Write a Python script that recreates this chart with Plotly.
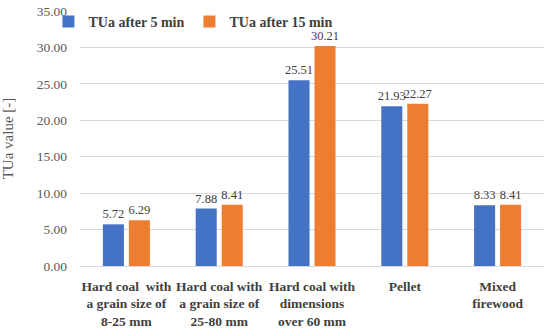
import plotly.graph_objects as go

categories = [
    "Hard coal  with<br>a grain size of<br>8-25 mm",
    "Hard coal with<br>a grain size of<br>25-80 mm",
    "Hard coal with<br>dimensions<br>over 60 mm",
    "Pellet",
    "Mixed<br>firewood",
]
tua_5 = [5.72, 7.88, 25.51, 21.93, 8.33]
tua_15 = [6.29, 8.41, 30.21, 22.27, 8.41]
series_names = ["TUa after 5 min", "TUa after 15 min"]
colors = ["#4472C4", "#ED7D31"]

FONT = "Liberation Serif, DejaVu Serif, serif"

fig = go.Figure()
for name, vals, col in zip(series_names, [tua_5, tua_15], colors):
    fig.add_trace(go.Bar(
        x=categories, y=vals, name=name,
        marker=dict(color=col, line=dict(width=0)),
        text=[f"{v:.2f}" for v in vals],
        textposition="outside",
        constraintext="none",
        textfont=dict(family=FONT, size=12.5, color="#404040"),
        cliponaxis=False,
    ))

fig.update_layout(
    width=550, height=329,
    margin=dict(l=80, r=6, t=11, b=63, autoexpand=False),
    paper_bgcolor="white", plot_bgcolor="white",
    barmode="group", bargap=0.44, bargroupgap=0.19,
    font=dict(family=FONT, color="#595959"),
    showlegend=True,
    legend=dict(
        orientation="h", x=-0.068, xanchor="left", y=1.02, yanchor="top",
        font=dict(family=FONT, size=14, color="#404040", weight="bold"),
        bgcolor="rgba(0,0,0,0)", itemwidth=30, traceorder="normal",
    ),
    xaxis=dict(
        showgrid=False, showline=False, ticks="", automargin=False,
        tickangle=0, ticklabeloverflow="allow",
        tickfont=dict(family=FONT, size=13.5, color="#404040", weight="bold"),
        ticklabelstandoff=10,
    ),
    yaxis=dict(
        range=[0, 35], dtick=5, tickformat=".2f", automargin=False,
        ticklabeloverflow="allow",
        showgrid=True, gridcolor="#D9D9D9", gridwidth=1,
        zeroline=True, zerolinecolor="#D9D9D9", zerolinewidth=1,
        showline=False, ticks="",
        tickfont=dict(family=FONT, size=13.5, color="#595959"),
        ticklabelstandoff=12,
        title=dict(text="TUa value [-]", font=dict(family=FONT, size=15, color="#595959"), standoff=24),
    ),
)

fig.write_html(
    "out.html",
    config={"displayModeBar": False},
    post_script="document.body.style.margin='0';document.body.style.overflow='hidden';",
)
